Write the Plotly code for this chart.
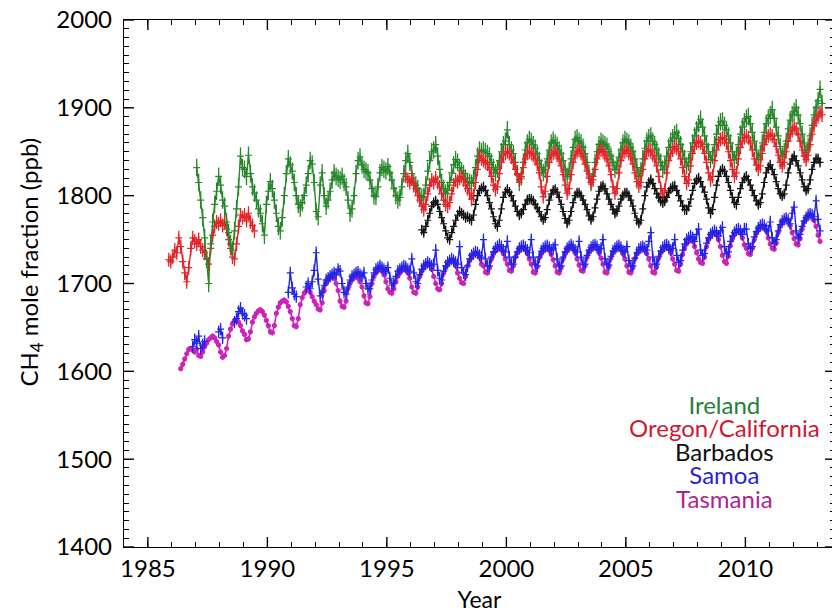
import plotly.graph_objects as go

# ---------------- data (monthly means, ppb) ----------------
YEAR_TICKS = [1985, 1990, 1995, 2000, 2005, 2010]
PPB_TICKS = [1400, 1500, 1600, 1700, 1800, 1900, 2000]

IRELAND_START = (1987, 1)
IRELAND = [
    1832, 1815, 1795, 1775, 1752, 1728, 1700, 1745, 1770, 1790, 1805, 1822,  # 1987
    1812, 1795, 1788, 1770, 1758, 1745, 1738, 1760, 1785, 1810, 1845, 1832,  # 1988
    1830, 1822, 1846, 1825, 1810, 1803, 1795, 1785, 1780, 1768, 1755, 1790,  # 1989
    1805, 1816, 1808, 1795, 1780, 1765, 1760, 1775, 1800, 1825, 1842, 1835,  # 1990
    1828, 1815, 1800, 1790, 1786, 1792, 1800, 1812, 1825, 1840, 1836, 1815,  # 1991
    1782, 1776, 1812, 1826, 1800, 1788, 1795, 1805, 1818, 1826, 1822, 1820,  # 1992
    1818, 1822, 1815, 1810, 1795, 1780, 1785, 1800, 1825, 1840, 1844, 1835,  # 1993
    1830, 1828, 1826, 1818, 1808, 1800, 1799, 1810, 1826, 1832, 1830, 1828,  # 1994
    1833, 1826, 1818, 1808, 1800, 1795, 1798, 1810, 1825, 1840, 1848, 1838,  # 1995
    1825, 1814, 1812, 1808, 1800, 1798, 1799, 1812, 1828, 1840, 1850, 1852,  # 1996
    1858, 1845, 1830, 1815, 1808, 1803, 1806, 1815, 1826, 1835, 1841, 1838,  # 1997
    1832, 1828, 1825, 1820, 1816, 1815, 1814, 1820, 1832, 1845, 1852, 1850,  # 1998
    1852, 1850, 1848, 1845, 1838, 1832, 1826, 1830, 1840, 1850, 1858, 1862,  # 1999
    1875, 1858, 1852, 1848, 1838, 1825, 1815, 1822, 1838, 1852, 1860, 1864,  # 2000
    1862, 1858, 1854, 1848, 1840, 1832, 1826, 1830, 1842, 1852, 1860, 1863,  # 2001
    1860, 1857, 1852, 1848, 1840, 1830, 1822, 1828, 1842, 1855, 1864, 1866,  # 2002
    1862, 1860, 1855, 1848, 1838, 1825, 1815, 1822, 1838, 1850, 1858, 1862,  # 2003
    1860, 1858, 1856, 1850, 1845, 1838, 1830, 1834, 1844, 1852, 1860, 1864,  # 2004
    1862, 1860, 1855, 1850, 1842, 1832, 1822, 1828, 1842, 1854, 1862, 1866,  # 2005
    1868, 1862, 1858, 1852, 1845, 1838, 1830, 1834, 1845, 1855, 1862, 1866,  # 2006
    1870, 1872, 1865, 1858, 1850, 1842, 1834, 1838, 1850, 1860, 1868, 1875,  # 2007
    1882, 1887, 1878, 1868, 1858, 1850, 1841, 1846, 1858, 1870, 1880, 1884,  # 2008
    1885, 1880, 1875, 1868, 1860, 1850, 1841, 1846, 1858, 1870, 1878, 1884,  # 2009
    1888, 1890, 1882, 1872, 1862, 1852, 1841, 1848, 1860, 1872, 1882, 1888,  # 2010
    1892, 1898, 1888, 1878, 1868, 1856, 1845, 1850, 1862, 1876, 1886, 1892,  # 2011
    1896, 1900, 1892, 1882, 1870, 1860, 1849, 1856, 1868, 1880, 1892, 1900,  # 2012
    1908, 1921, 1905,                                                        # 2013
]

OREGON_START = (1985, 11)
OREGON = [
    1727, 1725,                                                              # 1985
    1730, 1738, 1735, 1752, 1742, 1725, 1712, 1702, 1718, 1740, 1752, 1748,  # 1986
    1745, 1750, 1742, 1738, 1735, 1728, 1722, 1740, 1755, 1765, 1770, 1768,  # 1987
    1772, 1766, 1770, 1762, 1750, 1740, 1730, 1728, 1745, 1765, 1778, 1775,  # 1988
    1778, 1772, 1780, 1770, 1766, 1760,                                      # 1989
]

CALIFORNIA_START = (1995, 10)
CALIFORNIA = [
    1822, 1818, 1815,                                                        # 1995
    1820, 1812, 1808, 1800, 1795, 1788, 1784, 1790, 1802, 1812, 1818, 1815,  # 1996
    1820, 1815, 1810, 1802, 1795, 1790, 1788, 1792, 1802, 1812, 1818, 1816,  # 1997
    1820, 1822, 1818, 1812, 1808, 1803, 1796, 1800, 1815, 1830, 1845, 1842,  # 1998
    1840, 1838, 1836, 1830, 1822, 1812, 1807, 1810, 1825, 1838, 1846, 1848,  # 1999
    1850, 1848, 1844, 1838, 1830, 1824, 1818, 1820, 1832, 1842, 1848, 1850,  # 2000
    1848, 1846, 1842, 1836, 1826, 1810, 1799, 1805, 1822, 1838, 1846, 1848,  # 2001
    1850, 1846, 1842, 1834, 1824, 1812, 1803, 1808, 1824, 1838, 1846, 1850,  # 2002
    1852, 1848, 1844, 1836, 1828, 1820, 1815, 1818, 1830, 1842, 1850, 1852,  # 2003
    1850, 1846, 1842, 1834, 1824, 1810, 1803, 1808, 1826, 1840, 1848, 1850,  # 2004
    1852, 1848, 1844, 1836, 1826, 1816, 1811, 1815, 1830, 1842, 1850, 1852,  # 2005
    1850, 1846, 1842, 1834, 1822, 1808, 1799, 1806, 1826, 1840, 1848, 1852,  # 2006
    1856, 1854, 1850, 1842, 1832, 1822, 1814, 1818, 1834, 1848, 1856, 1860,  # 2007
    1862, 1860, 1856, 1848, 1838, 1826, 1818, 1822, 1840, 1852, 1860, 1864,  # 2008
    1866, 1864, 1860, 1850, 1840, 1830, 1822, 1826, 1842, 1855, 1862, 1866,  # 2009
    1868, 1866, 1860, 1852, 1842, 1835, 1830, 1834, 1848, 1858, 1865, 1868,  # 2010
    1870, 1868, 1864, 1856, 1846, 1838, 1834, 1838, 1850, 1862, 1870, 1874,  # 2011
    1878, 1876, 1870, 1862, 1852, 1845, 1841, 1846, 1858, 1870, 1880, 1886,  # 2012
    1890, 1895, 1892,                                                        # 2013
]

BARBADOS_START = (1996, 6)
BARBADOS = [
    1761, 1758, 1765, 1772, 1780, 1788, 1792,                                # 1996
    1794, 1790, 1782, 1775, 1768, 1760, 1752, 1750, 1758, 1765, 1772, 1778,  # 1997
    1782, 1780, 1778, 1775, 1776, 1774, 1772, 1778, 1790, 1800, 1806, 1808,  # 1998
    1810, 1806, 1800, 1792, 1785, 1776, 1768, 1765, 1772, 1785, 1798, 1804,  # 1999
    1807, 1804, 1800, 1794, 1788, 1782, 1778, 1780, 1784, 1790, 1795, 1796,  # 2000
    1796, 1794, 1790, 1786, 1782, 1776, 1773, 1775, 1784, 1795, 1802, 1806,  # 2001
    1807, 1804, 1798, 1790, 1782, 1774, 1769, 1772, 1782, 1792, 1800, 1803,  # 2002
    1803, 1800, 1795, 1790, 1784, 1777, 1773, 1776, 1786, 1796, 1805, 1810,  # 2003
    1811, 1808, 1802, 1796, 1790, 1784, 1780, 1782, 1788, 1796, 1800, 1803,  # 2004
    1803, 1800, 1795, 1788, 1780, 1772, 1769, 1772, 1785, 1800, 1810, 1815,  # 2005
    1818, 1814, 1808, 1802, 1798, 1794, 1792, 1794, 1798, 1804, 1808, 1810,  # 2006
    1811, 1806, 1800, 1794, 1788, 1784, 1784, 1788, 1796, 1806, 1814, 1818,  # 2007
    1820, 1816, 1810, 1804, 1796, 1786, 1780, 1784, 1798, 1812, 1822, 1828,  # 2008
    1830, 1828, 1822, 1815, 1806, 1798, 1792, 1790, 1798, 1808, 1815, 1820,  # 2009
    1822, 1818, 1812, 1806, 1800, 1794, 1790, 1792, 1802, 1815, 1826, 1832,  # 2010
    1835, 1830, 1824, 1816, 1808, 1802, 1800, 1802, 1812, 1826, 1836, 1842,  # 2011
    1845, 1840, 1834, 1826, 1818, 1810, 1806, 1808, 1818, 1830, 1838, 1842,  # 2012
    1842, 1838,                                                              # 2013
]

SAMOA_START = (1986, 11)
SAMOA = [
    1628, 1636,                                                              # 1986
    1632, 1640, 1626, 1630, 1634, None, None, None, None, None, None, 1645,  # 1987
    1648, 1638, None, None, None, None, None, 1656, 1660, 1668, 1672, 1666,  # 1988
    1664, 1660, None, None, None, None, None, None, None, None, None, None,  # 1989
    None, None, None, None, None, None, None, None, None, None, 1690, 1712,  # 1990
    1695, 1688, 1685, None, None, None, None, 1696, 1700, 1694, 1702, 1715,  # 1991
    1735, 1705, 1686, 1690, 1698, 1704, 1706, 1708, 1710, 1712, 1710, 1716,  # 1992
    1714, 1700, 1690, 1688, 1696, 1704, 1708, 1710, 1712, 1713, 1710, 1708,  # 1993
    1712, 1700, 1694, 1694, 1704, 1712, 1716, 1718, 1720, 1718, 1716, 1714,  # 1994
    1718, 1706, 1698, 1700, 1708, 1714, 1716, 1718, 1720, 1719, 1716, 1714,  # 1995
    1728, 1712, 1702, 1700, 1710, 1716, 1720, 1722, 1724, 1722, 1720, 1722,  # 1996
    1738, 1715, 1706, 1704, 1714, 1720, 1724, 1726, 1728, 1726, 1724, 1722,  # 1997
    1742, 1718, 1712, 1710, 1720, 1728, 1732, 1734, 1736, 1735, 1732, 1730,  # 1998
    1750, 1728, 1720, 1720, 1730, 1736, 1740, 1742, 1744, 1742, 1738, 1736,  # 1999
    1748, 1730, 1722, 1722, 1730, 1736, 1740, 1742, 1743, 1741, 1738, 1735,  # 2000
    1750, 1730, 1722, 1720, 1730, 1737, 1740, 1742, 1743, 1741, 1738, 1740,  # 2001
    1744, 1728, 1720, 1720, 1730, 1736, 1740, 1742, 1744, 1742, 1738, 1736,  # 2002
    1748, 1730, 1722, 1722, 1732, 1738, 1741, 1743, 1744, 1742, 1738, 1740,  # 2003
    1750, 1728, 1722, 1721, 1731, 1737, 1740, 1742, 1743, 1741, 1737, 1736,  # 2004
    1742, 1726, 1720, 1720, 1729, 1735, 1739, 1741, 1742, 1740, 1738, 1748,  # 2005
    1758, 1730, 1722, 1722, 1731, 1737, 1741, 1743, 1744, 1742, 1738, 1740,  # 2006
    1750, 1732, 1724, 1726, 1738, 1745, 1750, 1752, 1754, 1752, 1748, 1756,  # 2007
    1762, 1738, 1732, 1734, 1746, 1752, 1756, 1758, 1760, 1758, 1754, 1760,  # 2008
    1764, 1742, 1734, 1736, 1748, 1754, 1758, 1761, 1762, 1760, 1756, 1762,  # 2009
    1762, 1745, 1740, 1742, 1753, 1759, 1763, 1766, 1767, 1766, 1762, 1760,  # 2010
    1770, 1752, 1746, 1750, 1760, 1767, 1771, 1773, 1774, 1772, 1768, 1780,  # 2011
    1787, 1760, 1752, 1756, 1765, 1771, 1775, 1778, 1779, 1778, 1776, 1794,  # 2012
    1773, 1760,                                                              # 2013
]

TASMANIA_START = (1986, 5)
TASMANIA = [
    1603, 1608, 1614, 1620, 1625, 1626, 1624, 1622,                          # 1986
    1625, 1618, 1617, 1622, 1628, 1632, 1636, 1638, 1640, 1638, 1634, 1630,  # 1987
    1622, 1616, 1618, 1626, 1640, 1648, 1654, 1658, 1659, 1656, 1652, 1646,  # 1988
    1642, 1636, 1637, 1645, 1656, 1662, 1666, 1669, 1670, 1668, 1664, 1658,  # 1989
    1652, 1645, 1644, 1652, 1666, 1673, 1678, 1680, 1681, 1679, 1674, 1668,  # 1990
    1660, 1652, 1651, 1660, 1676, 1684, 1689, 1692, 1693, 1690, 1685, 1680,  # 1991
    1676, 1671, 1670, 1678, 1692, 1700, 1704, 1707, 1708, 1706, 1700, 1692,  # 1992
    1680, 1674, 1673, 1680, 1694, 1700, 1704, 1707, 1708, 1706, 1702, 1696,  # 1993
    1686, 1678, 1677, 1685, 1700, 1708, 1712, 1715, 1716, 1714, 1710, 1702,  # 1994
    1694, 1690, 1689, 1694, 1702, 1708, 1712, 1715, 1716, 1715, 1712, 1706,  # 1995
    1696, 1690, 1689, 1696, 1708, 1714, 1718, 1721, 1723, 1721, 1716, 1708,  # 1996
    1700, 1694, 1693, 1700, 1712, 1718, 1722, 1725, 1727, 1725, 1720, 1712,  # 1997
    1706, 1701, 1700, 1708, 1720, 1726, 1730, 1733, 1735, 1734, 1730, 1722,  # 1998
    1720, 1713, 1712, 1718, 1728, 1734, 1737, 1739, 1740, 1738, 1734, 1728,  # 1999
    1722, 1715, 1714, 1720, 1730, 1735, 1738, 1740, 1741, 1739, 1734, 1728,  # 2000
    1722, 1713, 1712, 1719, 1729, 1734, 1737, 1739, 1740, 1738, 1733, 1727,  # 2001
    1720, 1713, 1712, 1718, 1728, 1734, 1738, 1740, 1741, 1739, 1735, 1728,  # 2002
    1721, 1715, 1714, 1720, 1730, 1736, 1739, 1741, 1742, 1740, 1735, 1729,  # 2003
    1722, 1713, 1712, 1719, 1729, 1735, 1738, 1740, 1741, 1739, 1734, 1728,  # 2004
    1720, 1713, 1712, 1718, 1728, 1734, 1737, 1739, 1740, 1738, 1734, 1728,  # 2005
    1720, 1713, 1712, 1719, 1729, 1735, 1738, 1741, 1742, 1740, 1735, 1728,  # 2006
    1722, 1715, 1714, 1722, 1733, 1740, 1745, 1748, 1750, 1748, 1742, 1735,  # 2007
    1728, 1724, 1723, 1730, 1742, 1750, 1754, 1757, 1758, 1756, 1750, 1742,  # 2008
    1732, 1725, 1723, 1731, 1743, 1751, 1756, 1759, 1760, 1758, 1752, 1744,  # 2009
    1740, 1734, 1733, 1740, 1750, 1757, 1761, 1764, 1765, 1764, 1760, 1752,  # 2010
    1745, 1740, 1739, 1746, 1758, 1765, 1769, 1772, 1773, 1771, 1766, 1758,  # 2011
    1751, 1745, 1744, 1751, 1762, 1770, 1774, 1777, 1778, 1777, 1772, 1765,  # 2012
    1755, 1748,                                                              # 2013
]

# one-sigma monthly spread drawn as error bars (ppb)
ERR_IRELAND = 10
ERR_OREGON = 8
ERR_BARBADOS = 6
ERR_SAMOA = 7
ERR_TASMANIA = 3

LABELS = ["Ireland", "Oregon/California", "Barbados", "Samoa", "Tasmania"]
Y_TITLE = "CH<sub>4</sub> mole fraction (ppb)"
X_TITLE = "Year"
X_RANGE = [1984, 2013.75]
Y_RANGE = [1400, 2000]

# ---------------- styling ----------------
C_GREEN = "rgb(38,135,42)"
C_RED = "rgb(228,35,40)"
C_BLACK = "rgb(20,20,20)"
C_BLUE = "rgb(35,35,230)"
C_MAG = "rgb(205,35,185)"
LEGEND_COLORS = ["rgb(35,130,55)", "rgb(205,25,50)", "rgb(15,15,15)",
                 "rgb(40,30,215)", "rgb(175,35,140)"]
FONT = "Lato, 'Open Sans', sans-serif"
MAJOR_LEN = 10  # px


def months(start, n):
    y, m = start
    return [y + (m - 1 + i + 0.5) / 12.0 for i in range(n)]


def series(values, start, color, err, symbol="cross-thin", msize=5, lw=1.4):
    return go.Scatter(
        x=months(start, len(values)), y=values,
        mode="lines+markers",
        line=dict(color=color, width=lw),
        marker=dict(symbol=symbol, size=msize, color=color,
                    line=dict(color=color, width=1.2)),
        error_y=dict(type="constant", value=err, color=color,
                     thickness=1.3, width=0),
        connectgaps=False, showlegend=False, hoverinfo="skip",
    )


fig = go.Figure()
fig.add_trace(series(OREGON, OREGON_START, C_RED, ERR_OREGON))
fig.add_trace(series(IRELAND, IRELAND_START, C_GREEN, ERR_IRELAND))
fig.add_trace(series(CALIFORNIA, CALIFORNIA_START, C_RED, ERR_OREGON))
fig.add_trace(series(BARBADOS, BARBADOS_START, C_BLACK, ERR_BARBADOS))
fig.add_trace(series(TASMANIA, TASMANIA_START, C_MAG, ERR_TASMANIA,
                     symbol="circle", msize=4, lw=1.6))
fig.add_trace(series(SAMOA, SAMOA_START, C_BLUE, ERR_SAMOA))
# empty trace that only carries the overlay axes used for the minor tick marks
fig.add_trace(go.Scatter(x=[None], y=[None], xaxis="x2", yaxis="y2",
                         mode="markers", showlegend=False, hoverinfo="skip"))

tick_ax = dict(ticks="inside", tickcolor="black", tickwidth=1,
               showgrid=False, zeroline=False,
               showticklabels=False, showline=False, mirror="allticks",
               tickmode="linear")

fig.update_layout(
    template="none",
    width=832, height=607,
    margin=dict(l=116, r=5, t=12, b=68),
    paper_bgcolor="white", plot_bgcolor="rgba(0,0,0,0)",
    font=dict(family=FONT, color="black"),
    showlegend=False,
    xaxis=dict(
        range=X_RANGE, tickmode="array", tickvals=YEAR_TICKS,
        ticktext=[str(v) for v in YEAR_TICKS],
        ticks="", showgrid=False, zeroline=False,
        showline=True, linecolor="black", linewidth=1.4, mirror=True,
        tickfont=dict(family=FONT, size=24, color="black"),
        title=dict(text=X_TITLE, font=dict(family=FONT, size=23, color="black"),
                   standoff=10),
    ),
    yaxis=dict(
        range=Y_RANGE, tickmode="array", tickvals=PPB_TICKS,
        ticktext=[str(v) for v in PPB_TICKS],
        ticks="", showgrid=False, zeroline=False,
        showline=True, linecolor="black", linewidth=1.4, mirror=True,
        tickfont=dict(family=FONT, size=24, color="black"),
        ticklabelstandoff=6, ticklabeloverflow="allow",
    ),
    # minor ticks (1 year, 10 ppb)
    xaxis2=dict(overlaying="x", anchor="y2", side="bottom", range=X_RANGE,
                tick0=1984, dtick=1, ticklen=5, **tick_ax),
    yaxis2=dict(overlaying="y", anchor="x2", side="left", range=Y_RANGE,
                tick0=1400, dtick=10, ticklen=5, **tick_ax),
)

# major ticks: inward marks on all four sides at the labelled values
tick_line = dict(color="black", width=1.4)
for yr in YEAR_TICKS:
    for anchor, sign in ((0, 1), (1, -1)):
        fig.add_shape(type="line", xref="x", x0=yr, x1=yr,
                      yref="paper", ysizemode="pixel", yanchor=anchor,
                      y0=0, y1=sign * MAJOR_LEN, line=tick_line, layer="above")
for v in PPB_TICKS:
    for anchor, sign in ((0, 1), (1, -1)):
        fig.add_shape(type="line", yref="y", y0=v, y1=v,
                      xref="paper", xsizemode="pixel", xanchor=anchor,
                      x0=0, x1=sign * MAJOR_LEN, line=tick_line, layer="above")

# y-axis title placed as rotated text left of the tick labels
fig.add_annotation(text=Y_TITLE, x=-0.132, y=0.54, xref="paper", yref="paper",
                   showarrow=False, textangle=-90, xanchor="center", yanchor="middle",
                   font=dict(family=FONT, size=24, color="black"))

legend_text = "<br>".join(
    f"<span style='font-size:24px;color:{c}'>{t}</span>"
    for t, c in zip(LABELS, LEGEND_COLORS)
)
fig.add_annotation(text=legend_text, x=0.844, y=0.182, xref="paper", yref="paper",
                   showarrow=False, xanchor="center", yanchor="middle", align="center",
                   font=dict(family=FONT, size=18, color="black"))

fig.write_html("out.html")
